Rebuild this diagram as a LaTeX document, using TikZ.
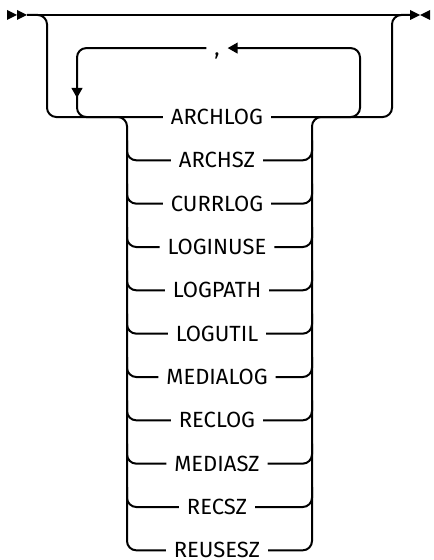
\documentclass[tikz,border=0pt]{standalone}
\usepackage{fontspec}
\setmainfont{Fira Sans}
\usetikzlibrary{arrows.meta,positioning,calc}
\tikzset{
  rail/.style={line width=1.5pt,draw=black,rounded corners=7pt},
  railarr/.style={rail,-{Triangle[length=7.5pt,width=8pt]}},
  kwbox/.style={font=\fontsize{16.5}{18}\selectfont,inner xsep=6pt,inner ysep=0pt,outer sep=0pt,text height=11.4pt,text depth=0pt,minimum height=0pt}
}
\begin{document}
\begin{tikzpicture}[x=0.75pt,y=-0.75pt,node distance=21.1pt]
  \useasboundingbox (0,0) rectangle (433,560);
  \coordinate (start) at (27,15);
  \coordinate (finish) at (410,15);
  \coordinate (colL) at (127,117);
  \coordinate (colR) at (312,117);
  % keywords
  \node[kwbox] (archlog) at (217,117) {ARCHLOG};
  \node[kwbox,below=of archlog] (archsz) {ARCHSZ};
  \node[kwbox,below=of archsz] (currlog) {CURRLOG};
  \node[kwbox,below=of currlog] (loginuse) {LOGINUSE};
  \node[kwbox,below=of loginuse] (logpath) {LOGPATH};
  \node[kwbox,below=of logpath] (logutil) {LOGUTIL};
  \node[kwbox,below=of logutil] (medialog) {MEDIALOG};
  \node[kwbox,below=of medialog] (reclog) {RECLOG};
  \node[kwbox,below=of reclog] (mediasz) {MEDIASZ};
  \node[kwbox,below=of mediasz] (recsz) {RECSZ};
  \node[kwbox,below=of recsz] (reusesz) {REUSESZ};
  \node[kwbox,above=40.3pt of archlog] (comma) {,};
  % main line and markers
  \draw[rail] (start) -- (finish);
  \fill (7,10) -- (17,15) -- (7,20) -- cycle;
  \fill (17,10) -- (27,15) -- (17,20) -- cycle;
  \fill (410,10) -- (420,15) -- (410,20) -- cycle;
  \fill (430,10) -- (420,15) -- (430,20) -- cycle;
  % bypass
  \draw[rail] (start) -- (47,15) |- (archlog.west);
  \draw[rail] (archlog.east) -| (392,15) -- (finish);
  % repeat loop
  \draw[railarr] (340,117) -- (360,117) |- (comma.east);
  \draw[railarr] (comma.west) -| (77,98);
  \draw[rail] (77,96) |- (100,117);
  % choice column
  \draw[rail] (100,117) -- (colL) |- (reusesz.west);
  \draw[rail] (reusesz.east) -| (colR) -- (340,117);
  \foreach \n in {archsz,currlog,loginuse,logpath,logutil,medialog,reclog,mediasz,recsz}{
    \draw[rail] ($(colL |- \n.west)+(0,-20)$) -- (colL |- \n.west) -- (\n.west);
    \draw[rail] (\n.east) -- (colR |- \n.east) -- ($(colR |- \n.east)+(0,-20)$);
  }
\end{tikzpicture}
\end{document}
